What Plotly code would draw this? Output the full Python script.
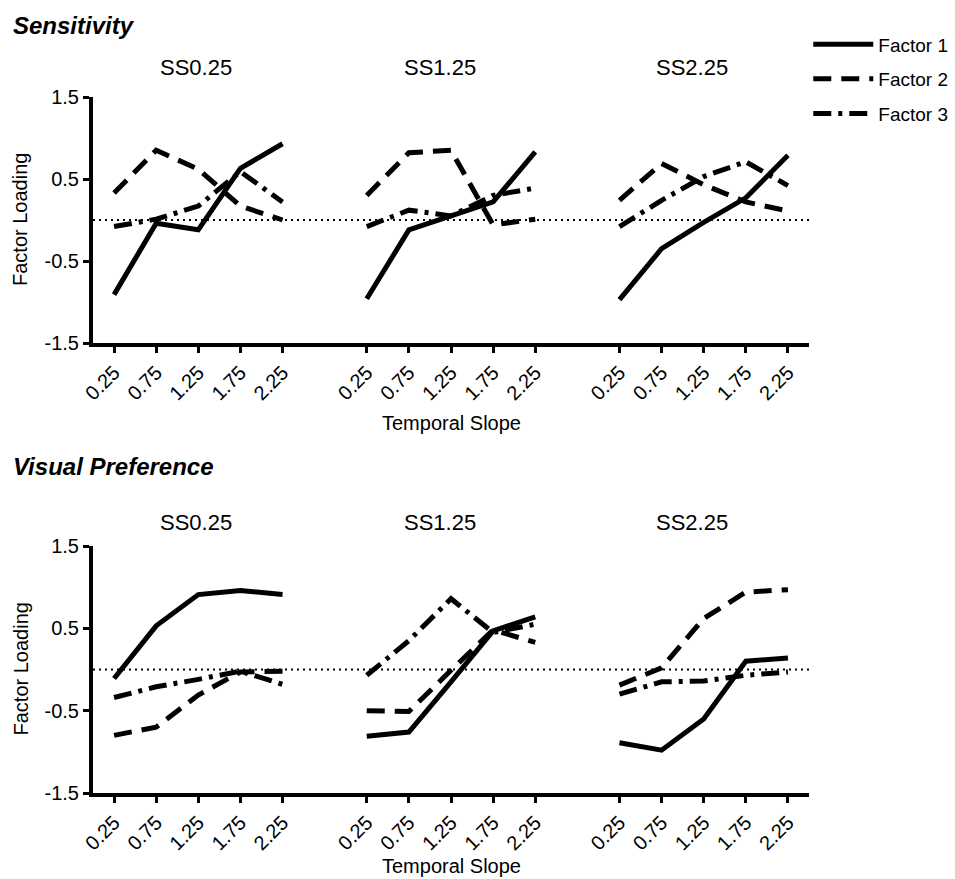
import plotly.graph_objects as go

# ---- data ----
slopes = ["0.25", "0.75", "1.25", "1.75", "2.25"]
groups = ["SS0.25", "SS1.25", "SS2.25"]
factors = ["Factor 1", "Factor 2", "Factor 3"]
panels = ["Sensitivity", "Visual Preference"]

# Sensitivity (SS0.25 | SS1.25 | SS2.25)
sens_f1 = [-0.91, -0.04, -0.12, 0.63, 0.93,  -0.96, -0.12, 0.05, 0.22, 0.83,  -0.97, -0.35, -0.03, 0.27, 0.79]
sens_f2 = [0.33, 0.85, 0.62, 0.17, 0.00,     0.30, 0.82, 0.85, -0.06, 0.01,   0.24, 0.69, 0.43, 0.22, 0.11]
sens_f3 = [-0.08, 0.01, 0.17, 0.59, 0.22,    -0.08, 0.12, 0.05, 0.30, 0.39,   -0.08, 0.24, 0.53, 0.71, 0.42]

# Visual preference
vis_f1 = [-0.11, 0.53, 0.91, 0.96, 0.91,     -0.81, -0.76, -0.15, 0.47, 0.64, -0.89, -0.98, -0.60, 0.10, 0.14]
vis_f2 = [-0.80, -0.70, -0.31, -0.03, -0.02, -0.50, -0.51, -0.01, 0.48, 0.33, -0.19, 0.02, 0.62, 0.94, 0.97]
vis_f3 = [-0.34, -0.21, -0.12, -0.02, -0.18, -0.07, 0.35, 0.86, 0.45, 0.55,   -0.30, -0.15, -0.14, -0.07, -0.03]

y_ticks = [-1.5, -0.5, 0.5, 1.5]
y_tick_text = ["-1.5", "-0.5", "0.5", "1.5"]

# ---- layout helpers ----
GROUP_STEP = 6
positions = [g * GROUP_STEP + i for g in range(len(groups)) for i in range(len(slopes))]
tick_text = slopes * len(groups)
title_offsets = [-0.05, -0.26, -0.28]


def with_gaps(vals):
    xs, ys = [], []
    n = len(slopes)
    for g in range(len(groups)):
        for i in range(n):
            xs.append(positions[g * n + i])
            ys.append(vals[g * n + i])
        xs.append(None)
        ys.append(None)
    return xs, ys


dashes = ["solid", "18px,10px", "18px,7px,4px,7px"]
FONT = "Liberation Sans, Arial, Helvetica, sans-serif"

fig = go.Figure()
panel_data = [(sens_f1, sens_f2, sens_f3), (vis_f1, vis_f2, vis_f3)]
axes = [("x", "y"), ("x2", "y2")]
for p, (series, (xa, ya)) in enumerate(zip(panel_data, axes)):
    for k, vals in enumerate(series):
        xs, ys = with_gaps(vals)
        fig.add_trace(go.Scatter(
            x=xs, y=ys, mode="lines", name=factors[k],
            line=dict(color="black", width=5, dash=dashes[k]),
            connectgaps=False, showlegend=(p == 0),
            legendgroup=factors[k], xaxis=xa, yaxis=ya,
            hoverinfo="skip",
        ))

W, H = 955, 879
ML, MR, MT, MB = 93, 146, 97, 86
ph = H - MT - MB
top_dom = [(H - MB - 343) / ph, 1.0]
bot_dom = [0.0, (H - MB - 546) / ph]

xaxis_common = dict(
    range=[-0.5, 16.5], tickmode="array", tickvals=positions, ticktext=tick_text,
    tickangle=-45, showline=True, linecolor="black", linewidth=4,
    ticks="outside", ticklen=6, tickwidth=3, tickcolor="black",
    showgrid=False, zeroline=False, tickfont=dict(family=FONT, size=20, color="black"),
    automargin=False,
)
yaxis_common = dict(
    range=[-1.5, 1.5], tickmode="array", tickvals=y_ticks, ticktext=y_tick_text,
    showline=True, linecolor="black", linewidth=4,
    ticks="outside", ticklen=6, tickwidth=3, tickcolor="black",
    showgrid=False, zeroline=False, tickfont=dict(family=FONT, size=20, color="black"),
    automargin=False,
)

fig.update_layout(
    width=W, height=H,
    margin=dict(l=ML, r=MR, t=MT, b=MB, autoexpand=False),
    paper_bgcolor="white", plot_bgcolor="white",
    xaxis=dict(domain=[0, 1], anchor="y", **xaxis_common),
    yaxis=dict(domain=top_dom, anchor="x", **yaxis_common),
    xaxis2=dict(domain=[0, 1], anchor="y2", **xaxis_common),
    yaxis2=dict(domain=bot_dom, anchor="x2", **yaxis_common),
    font=dict(family=FONT, color="black"),
    legend=dict(
        x=0.999, xanchor="left", y=1.103, yanchor="top",
        font=dict(family=FONT, size=19, color="black"),
        itemwidth=60, tracegroupgap=7, bgcolor="rgba(0,0,0,0)",
    ),
)

# zero reference lines
for xa, ya in [("x", "y"), ("x2", "y2")]:
    fig.add_shape(type="line", xref=f"{xa} domain", yref=ya, x0=0, x1=1, y0=0, y1=0,
                  line=dict(color="black", width=2, dash="2px,4px"))


def py(pix):
    return (H - MB - pix) / ph


ann = []
# panel titles
ann.append(dict(text="<b><i>Sensitivity</i></b>", x=(11 - ML) / (W - ML - MR), y=py(25)))
ann.append(dict(text="<b><i>Visual Preference</i></b>", x=(11 - ML) / (W - ML - MR), y=py(466)))
for a in ann:
    a.update(xref="paper", yref="paper", xanchor="left", yanchor="middle", showarrow=False,
             font=dict(family=FONT, size=24, color="black"))
# group titles
for g, name in enumerate(groups):
    cx = positions[g * len(slopes) + 2] + title_offsets[g]
    for ref, yy in [("x", py(68)), ("x2", py(522))]:
        ann.append(dict(text=name, x=cx, y=yy, xref=ref, yref="paper",
                        xanchor="center", yanchor="middle", showarrow=False,
                        font=dict(family=FONT, size=22, color="black")))
# axis titles
for ref, yy, ty in [("x", py(220), py(423)), ("x2", py(669.5), py(866))]:
    ann.append(dict(text="Factor Loading", x=(20 - ML) / (W - ML - MR), y=yy, xref="paper", yref="paper",
                    textangle=-90, xanchor="center", yanchor="middle", showarrow=False,
                    font=dict(family=FONT, size=20, color="black")))
    ann.append(dict(text="Temporal Slope", x=positions[7], y=ty, xref=ref, yref="paper",
                    xanchor="center", yanchor="middle", showarrow=False,
                    font=dict(family=FONT, size=20, color="black")))
fig.update_layout(annotations=ann)

fig.write_html("out.html")
